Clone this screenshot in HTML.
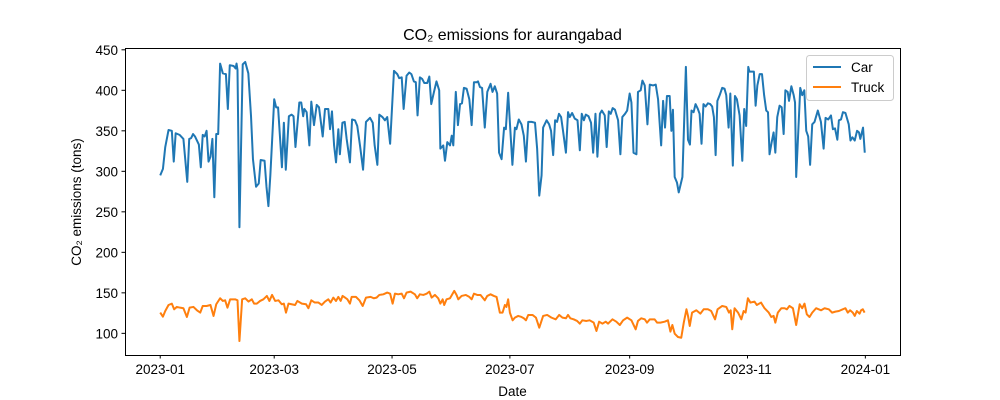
<!DOCTYPE html>
<html><head><meta charset="utf-8"><style>
html,body{margin:0;padding:0;background:#fff;}
svg{display:block;font-family:"Liberation Sans","DejaVu Sans",sans-serif;}
</style></head><body>
<svg id="chart" width="1000" height="400" viewBox="0 0 1000 400" xmlns="http://www.w3.org/2000/svg">
<rect width="1000" height="400" fill="#fff"/>
<text x="512.5" y="40" text-anchor="middle" font-size="16">CO₂ emissions for aurangabad</text>
<text x="512.5" y="396" text-anchor="middle" font-size="13.5">Date</text>
<text transform="translate(81,202) rotate(-90)" text-anchor="middle" font-size="13.5">CO₂ emissions (tons)</text>
<g id="ticks"></g>
<g id="series"></g>
<rect x="125.5" y="48.5" width="775" height="307" fill="none" stroke="#000" stroke-width="1"/>
<g>
<rect x="806.5" y="55.5" width="87" height="45" rx="3" fill="#fff" fill-opacity="0.8" stroke="#ccc"/>
<line x1="813" y1="67" x2="841" y2="67" stroke="#1f77b4" stroke-width="2"/>
<text x="851" y="72" font-size="13.5">Car</text>
<line x1="813" y1="87" x2="841" y2="87" stroke="#ff7f0e" stroke-width="2"/>
<text x="851" y="92" font-size="13.5">Truck</text>
</g>
</svg>
<script>
const carDays=[0,1.4,2.6,4.3,6,7,8,10,12,14,15,16,17,18,20,21,22,23,24,25,26,27,28,29,30,31,32.4,34,35,36,38,39,39.5,40,41,42.7,44,45.6,47,48,49.6,51,52,54,55,56,57,59,60,61,63,64,65,66.6,68,69,70,72,73,74,74.6,75.8,77.2,78.2,79.6,81,82.2,84.1,85.3,87,87.9,88.9,90,91,92.2,93,94.3,95.5,96.5,98.2,99.3,100.8,102,103.4,105,106.5,108.6,110,111,112.4,113.4,115,116.3,117.5,119,121,122.7,123.7,125,126,127.5,128.9,130,131.3,132.3,133.2,134.4,135.6,136.7,138.2,139.3,140.3,141.7,143,144.4,145,146.5,147.4,148.6,150,150.9,151.7,153,154.1,155.2,156.2,157.2,158.6,160,161.2,162.4,163.8,164.5,165.5,166.6,168,169.3,171,172,173.2,174.4,175.4,176.7,178,178.9,180.1,181.3,182.3,183.6,184.4,185.6,187,188.2,189.3,190.5,192.2,194,195.1,196.2,197.4,198.2,200,201.3,202.3,203.4,204.4,205.4,206.4,207.5,208.5,210,211.1,212,213.2,214.6,216,217.2,218.2,219.3,220.3,221.7,223,224.1,225.3,226.3,227.6,228.6,230.1,231.1,232.2,233.2,234.2,235.4,237,238.2,239.2,240.6,241.7,243,243.9,245,246.5,247.3,248.7,249.6,250.8,252.2,253.4,255.1,256.5,257.7,259.3,260.3,261.3,262.3,263.7,264.6,265.4,266.3,267.5,268.4,270.3,272.1,273.2,274.2,275,276.1,277.1,278.3,279.2,280.2,281.2,282.3,283.5,284.7,285.7,286.6,287.5,288.4,289.6,290.9,292.1,293,294.2,295.1,296.4,297.5,298.5,299.9,301.3,302.3,303.3,304.4,305,306.3,307.3,308.2,309.1,310.3,311.5,312.6,313.7,314.6,315.4,316.5,317.5,318.4,319.4,320.6,321.7,322.7,323.6,324.8,325.5,326.7,327.9,328.6,329.2,330.3,331.3,332.3,333.4,334.4,335.4,336.4,337.5,338.7,340.4,342,343.4,344.4,345.8,347.2,348.2,349.3,350.5,351.3,352.4,353.4,354.7,356.4,357.3,358.3,359.5,360.7,361.7,362.4,363.8,364.7];
const carValues=[295,303,330,351,350,312,347,345,340,287,340,341,346,343,333,305,345,343,350,312,318,340,268,346,346,433,421,420,377,431,430,427,433,425,231,432,435,421,368,315,281,285,314,313,281,257,295,389,379,379,305,360,302,368,370,368,330,385,385,368,377,373,332,386,357,382,379,343,377,377,352,374,332,311,352,321,360,361,340,311,364,363,356,332,302,361,366,360,332,308,370,367,363,367,334,424,420,415,416,377,418,422,420,411,410,369,416,414,409,409,417,383,398,411,400,328,332,313,336,332,344,332,398,357,383,384,403,402,389,357,410,410,411,404,403,354,398,408,398,405,396,323,315,354,352,397,348,308,354,352,364,358,344,312,361,361,360,328,270,295,354,363,358,350,320,363,361,371,367,350,323,373,367,372,365,363,326,371,363,370,368,360,323,371,318,371,375,369,330,374,371,378,376,363,321,367,371,375,396,385,323,321,398,400,412,406,358,407,406,407,389,332,387,354,393,393,350,376,293,286,274,293,429,339,333,375,373,383,377,371,334,383,380,384,383,380,367,320,387,394,403,402,394,354,396,307,393,389,369,313,377,356,429,423,423,423,381,406,420,420,394,375,373,321,336,348,323,367,381,379,346,400,398,387,405,394,385,293,350,403,394,400,350,343,308,358,361,375,361,328,366,364,369,352,353,339,363,364,373,372,358,338,342,338,350,348,340,354,323];
const truckDays=[0,1.4,2.6,4.3,6,7.2,8.6,10.3,12,13.8,15.2,17.2,19,20.7,22,24,26,27.6,29,31,32.4,33.6,34.8,36.2,38.8,40,41,42.4,44,45.7,47.4,48.6,50,51.7,53.4,55.2,56.5,57.9,59.5,61.2,62.9,64,65.1,66.4,68,69.8,71,73.3,75.5,76.7,78.2,80,81.9,83.6,85.3,87,88.2,89.6,91,92.2,93.4,94.4,95.7,96.9,98.2,99.1,101.3,103.1,104.8,106.5,108.9,110.6,112,113.4,115.5,117.5,119,120.3,121.5,123.2,125,126.2,127.5,129.6,131.8,133,134.4,136.2,137.9,139.3,140.5,142.2,143.9,145,146.2,147,148.2,150,152.2,153.4,154.3,156,158.2,160,161.2,162.4,164.1,165.8,168,169.3,171,172.7,174.1,175.8,177.2,178.4,179.2,180.1,181,182.4,183.6,185.3,187,188.2,189.3,190.5,192.7,194.5,196.2,198.2,200.3,202.5,204.7,206.5,208.2,210,211.1,212.3,214,215.8,217.2,218.5,220.6,222.3,224.4,225.8,227.2,228.9,230.6,231.8,234.1,236.1,237.9,239.6,241.7,243.9,246.1,247.3,249,250.8,252,253.4,255.9,257.2,258.9,261.1,262.8,264.1,265.1,266.3,268,269.7,271,272.4,273.2,274.1,275.3,277.5,279.6,281.3,283.5,285.2,287.2,288.5,290.9,293,294.4,295.3,296.1,297.3,299.1,300.8,302,303,304.2,305.5,307.6,308.8,311,312.8,315,316.3,317.5,318.4,319.7,321.5,323.2,324.4,325.7,327.5,329.2,331,332.3,333.5,334.7,336.1,337.5,339.5,342.1,343.9,346.1,347.8,349.5,351.3,353.3,354.7,355.9,357.1,358.5,359.5,360.6,362,362.8,363.7,364.6];
const truckValues=[125.6,120.6,127.6,135,136.7,129.7,132.6,131.7,131,120.2,131.7,132.6,128.5,125.6,133.8,133.8,135,121.5,135.9,143.3,140,140.8,131.7,142,142,140.8,90.5,142,143.3,139.2,142,136.7,136.7,140,142,146.2,140,147.4,140,140.8,135.9,136.7,125.6,136.7,135.9,135,140,136.7,135.9,131,140.8,138,138,135,139.2,142,138,144.1,140,145,140,146.2,144.1,142,136.7,145,145,140.8,133.8,144.1,145,143.3,144.1,147.4,148.2,150.3,149,136.7,149,148.2,149,143.3,150.3,151.5,148.2,143.3,148.2,147.4,149,151.5,144.1,147.4,143.3,136.7,142,135,142,143.3,152.4,147.4,142,146.2,147.4,145,142,149,147.4,147.4,140.8,146.2,148.2,146.2,145,125.6,125.6,135,132.6,142,125.6,116.1,119.4,121.5,120.2,118.6,116.1,122.7,122.7,119.4,107,121.5,122.7,119.4,117.3,122.7,119.4,118.6,122.7,118.6,117.3,115.3,112,116.1,115.3,116.1,113.2,102.9,114.4,112,114.4,112,117.3,114.4,110.3,116.1,119.4,116.1,105,115.3,118.6,117.3,113.2,117.3,117.3,113.2,113.2,114.4,116.1,102.1,110.3,99.6,95.5,94.6,113.2,129.7,121.5,109.1,125.6,128.5,124.3,129.7,129.7,127.6,117.3,129.7,133.8,132.6,125.6,128.5,105,131,125.6,117.3,127.6,125.6,143.3,138,139.2,135,138,131,125.6,120.2,121.5,113.2,125.6,131,131,129.7,133.8,131,110.3,135.9,131,136.7,123.5,120.2,125.6,131,128.5,131,129.7,125.6,126.8,127.6,129.7,131,125.6,128.5,125.6,121.5,127.6,124.3,128.5,129.7,125.6];
const yTickValues=[100,150,200,250,300,350,400,450];
const xTickDates=["2023-01","2023-03","2023-05","2023-07","2023-09","2023-11","2024-01"];

const NS="http://www.w3.org/2000/svg";
const L=125,R=900,T=48,B=355;
const all=carValues.concat(truckValues);
const vmin=Math.min(...all),vmax=Math.max(...all),vm=(vmax-vmin)*0.05;
const dmin=0,dmax=Math.max(...carDays,...truckDays),dm=(dmax-dmin)*0.05;
function xs(d){return L+(d-(dmin-dm))/((dmax+dm)-(dmin-dm))*(R-L);}
function ys(v){return B-(v-(vmin-vm))/((vmax+vm)-(vmin-vm))*(B-T);}
const base=Date.UTC(2023,0,1);
function dayOf(s){const p=s.split('-');return (Date.UTC(+p[0],+p[1]-1,1)-base)/86400000;}
const tg=document.getElementById('ticks');
yTickValues.forEach(v=>{
  const y=ys(v);
  const ln=document.createElementNS(NS,'line');
  
  
  ln.setAttribute('x1',L-3.5);ln.setAttribute('x2',L);ln.setAttribute('y1',y);ln.setAttribute('y2',y);ln.setAttribute('stroke','#000');
  tg.appendChild(ln);
  const t=document.createElementNS(NS,'text');
  
  
  t.setAttribute('x',L-7);t.setAttribute('y',y+5);t.setAttribute('text-anchor','end');t.setAttribute('font-size','13.5');
  t.textContent=v;tg.appendChild(t);
});
xTickDates.forEach(s=>{
  const x=xs(dayOf(s));
  const ln=document.createElementNS(NS,'line');
  
  
  ln.setAttribute('x1',x);ln.setAttribute('x2',x);ln.setAttribute('y1',B);ln.setAttribute('y2',B+3.5);ln.setAttribute('stroke','#000');
  tg.appendChild(ln);
  const t=document.createElementNS(NS,'text');
  
  
  t.setAttribute('x',x);t.setAttribute('y',B+19);t.setAttribute('text-anchor','middle');t.setAttribute('font-size','13.5');
  t.textContent=s;tg.appendChild(t);
});
const sg=document.getElementById('series');
function line(days,vals,color,name){
  const p=document.createElementNS(NS,'polyline');
  
  
  p.setAttribute('points',days.map((d,i)=>xs(d).toFixed(2)+','+ys(vals[i]).toFixed(2)).join(' '));
  p.setAttribute('fill','none');p.setAttribute('stroke',color);p.setAttribute('stroke-width','2');p.setAttribute('stroke-linejoin','round');
  sg.appendChild(p);
}
line(carDays,carValues,'#1f77b4','car-line');
line(truckDays,truckValues,'#ff7f0e','truck-line');
</script>
</body></html>
